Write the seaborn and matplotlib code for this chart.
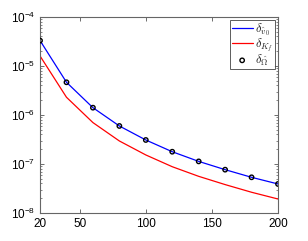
import matplotlib
matplotlib.use("Agg")
import matplotlib.pyplot as plt
import seaborn as sns
import numpy as np
import pandas as pd
from matplotlib.ticker import LogLocator, FixedLocator, NullFormatter

sns.set_style("ticks")
plt.rcParams['font.family'] = ['Liberation Sans', 'DejaVu Sans']
plt.rcParams['mathtext.fontset'] = 'cm'

x_vals = [20, 40, 60, 80, 100, 120, 140, 160, 180, 200]
delta_v0 = [3.3e-5, 4.65e-6, 1.41e-6, 5.97e-7, 3.09e-7, 1.78e-7, 1.13e-7, 7.66e-8, 5.35e-8, 3.91e-8]
delta_Kf = [1.6e-5, 2.3e-6, 7.0e-7, 2.95e-7, 1.53e-7, 8.8e-8, 5.6e-8, 3.8e-8, 2.65e-8, 1.93e-8]
delta_Omega = [3.3e-5, 4.65e-6, 1.41e-6, 5.97e-7, 3.09e-7, 1.78e-7, 1.13e-7, 7.66e-8, 5.35e-8, 3.91e-8]
x_ticks = [20, 50, 100, 150, 200]

df = pd.DataFrame({"x": x_vals, "v0": delta_v0, "Kf": delta_Kf, "Om": delta_Omega})

fig = plt.figure(figsize=(3.08, 2.41), dpi=100)
ax = fig.add_axes([0.13, 0.1162, 0.7726, 0.8133])

sns.lineplot(data=df, x="x", y="v0", ax=ax, color="#0000ff", linewidth=0.9,
             label=r"$\delta_{\hat{v}_0}$")
sns.lineplot(data=df, x="x", y="Kf", ax=ax, color="#ff0000", linewidth=0.9,
             label=r"$\delta_{K_f}$")
sns.scatterplot(data=df, x="x", y="Om", ax=ax, marker="o", s=10,
                facecolor="none", edgecolor="black", linewidth=1.0,
                label=r"$\delta_{\hat{\Omega}}$", zorder=5)

ax.set_yscale("log")
ax.set_xlim(20, 200)
ax.set_ylim(1e-8, 1e-4)
ax.set_xlabel("")
ax.set_ylabel("")
ax.xaxis.set_major_locator(FixedLocator(x_ticks))
ax.yaxis.set_major_locator(LogLocator(base=10, numticks=10))
ax.yaxis.set_minor_locator(LogLocator(base=10, subs=np.arange(2, 10), numticks=20))
ax.yaxis.set_minor_formatter(NullFormatter())
ax.tick_params(which="both", direction="in", top=True, right=True,
               labelsize=8.5, colors="#000000")
ax.tick_params(which="major", length=3, width=0.6, color="#555555")
ax.tick_params(which="minor", length=1.5, width=0.5, color="#555555")
for s in ax.spines.values():
    s.set_color("#666666")
    s.set_linewidth(0.8)

leg = ax.legend(loc="upper right", frameon=True, fancybox=False, fontsize=9,
                handlelength=1.7, handletextpad=0.2, borderpad=0.1,
                labelspacing=-0.1, borderaxespad=0.25)
leg.get_frame().set_edgecolor("#333333")
leg.get_frame().set_linewidth(0.7)

fig.savefig("out.png", dpi=100)
